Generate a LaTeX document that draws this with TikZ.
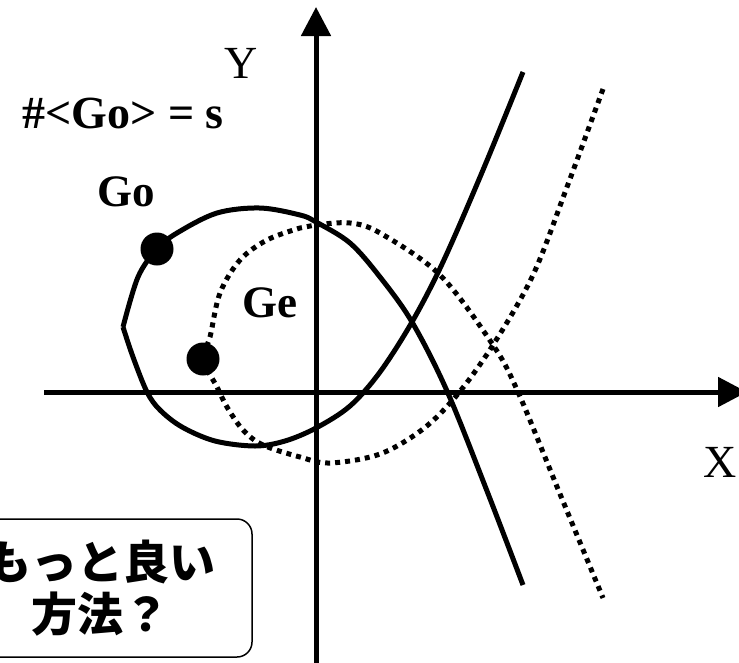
\documentclass[tikz,border=0pt]{standalone}
\usepackage{fontspec}
\setmainfont{Liberation Serif}
\newfontfamily\cjk{Noto Sans CJK JP}
\usetikzlibrary{arrows.meta}
\tikzset{
  axis/.style={line width=5pt, -{Triangle[length=29pt,width=29pt]}},
  solidcurve/.style={line width=5pt},
  dotcurve/.style={line width=5pt, dash pattern=on 5pt off 5pt},
  bigdot/.style={circle, fill=black, minimum size=33pt, inner sep=0pt},
  lbl/.style={inner sep=0pt, font=\fontsize{46}{50}\selectfont},
  blbl/.style={inner sep=0pt, font=\fontsize{45}{50}\selectfont\bfseries},
  note/.style={draw, line width=1.5pt, rounded corners=15pt, minimum width=302pt, minimum height=138pt, align=center, inner sep=0pt, font=\cjk\bfseries\fontsize{46}{52}\selectfont}
}
\begin{document}
\begin{tikzpicture}[x=1pt,y=-1pt]
\useasboundingbox (0,0) rectangle (739,662);
% axes
\coordinate (yb) at (316,664);
\coordinate (yt) at (316,7);
\coordinate (xl) at (44,392);
\coordinate (xr) at (747,392);
\draw[axis] (yb) -- (yt);
\draw[axis] (xl) -- (xr);
% dots
\node[bigdot] (go) at (157,249) {};
\node[bigdot] (ge) at (203,359) {};
% solid curve
\draw[solidcurve, line join=round]
  plot[smooth, tension=0.55] coordinates {(523,72) (483,170) (443,262) (412,322) (380,372) (350,406) (316,428) (285,441) (255,446) (215,441) (182,427) (160,410) (147,392) (133,357) (123,327)}
  plot[smooth, tension=0.55] coordinates {(123,327) (138,277) (go) (177,233) (217,213) (260,208) (300,215) (316,222) (350,243) (380,277) (412,322) (447,391) (487,491) (523,585)};
% dotted curve
\draw[dotcurve]
  plot[smooth, tension=0.55] coordinates {(603,89) (567,187) (533,275) (493,345) (457,395) (423,429) (380,454) (330,463) (300,457) (263,445) (243,430) (227,407) (217,387) (ge) (210,337) (220,293) (240,260) (267,240) (300,228) (315,225) (350,223) (380,233) (440,275) (493,345) (518,392) (560,494) (603,598)};
% labels
\node[lbl] (ylab) at (241,63) {Y};
\node[lbl] (xlab) at (720,462) {X};
\node[blbl] (golab) at (126,192) {Go};
\node[blbl] (gelab) at (270,303) {Ge};
\node[inner sep=0pt, anchor=base east, font=\fontsize{46}{50}\selectfont\bfseries] (count) at (224,128) {\#<Go> = s};
% note box
\node[note] (box) at (101,588) {もっと良い\\方法？};
\end{tikzpicture}
\end{document}
